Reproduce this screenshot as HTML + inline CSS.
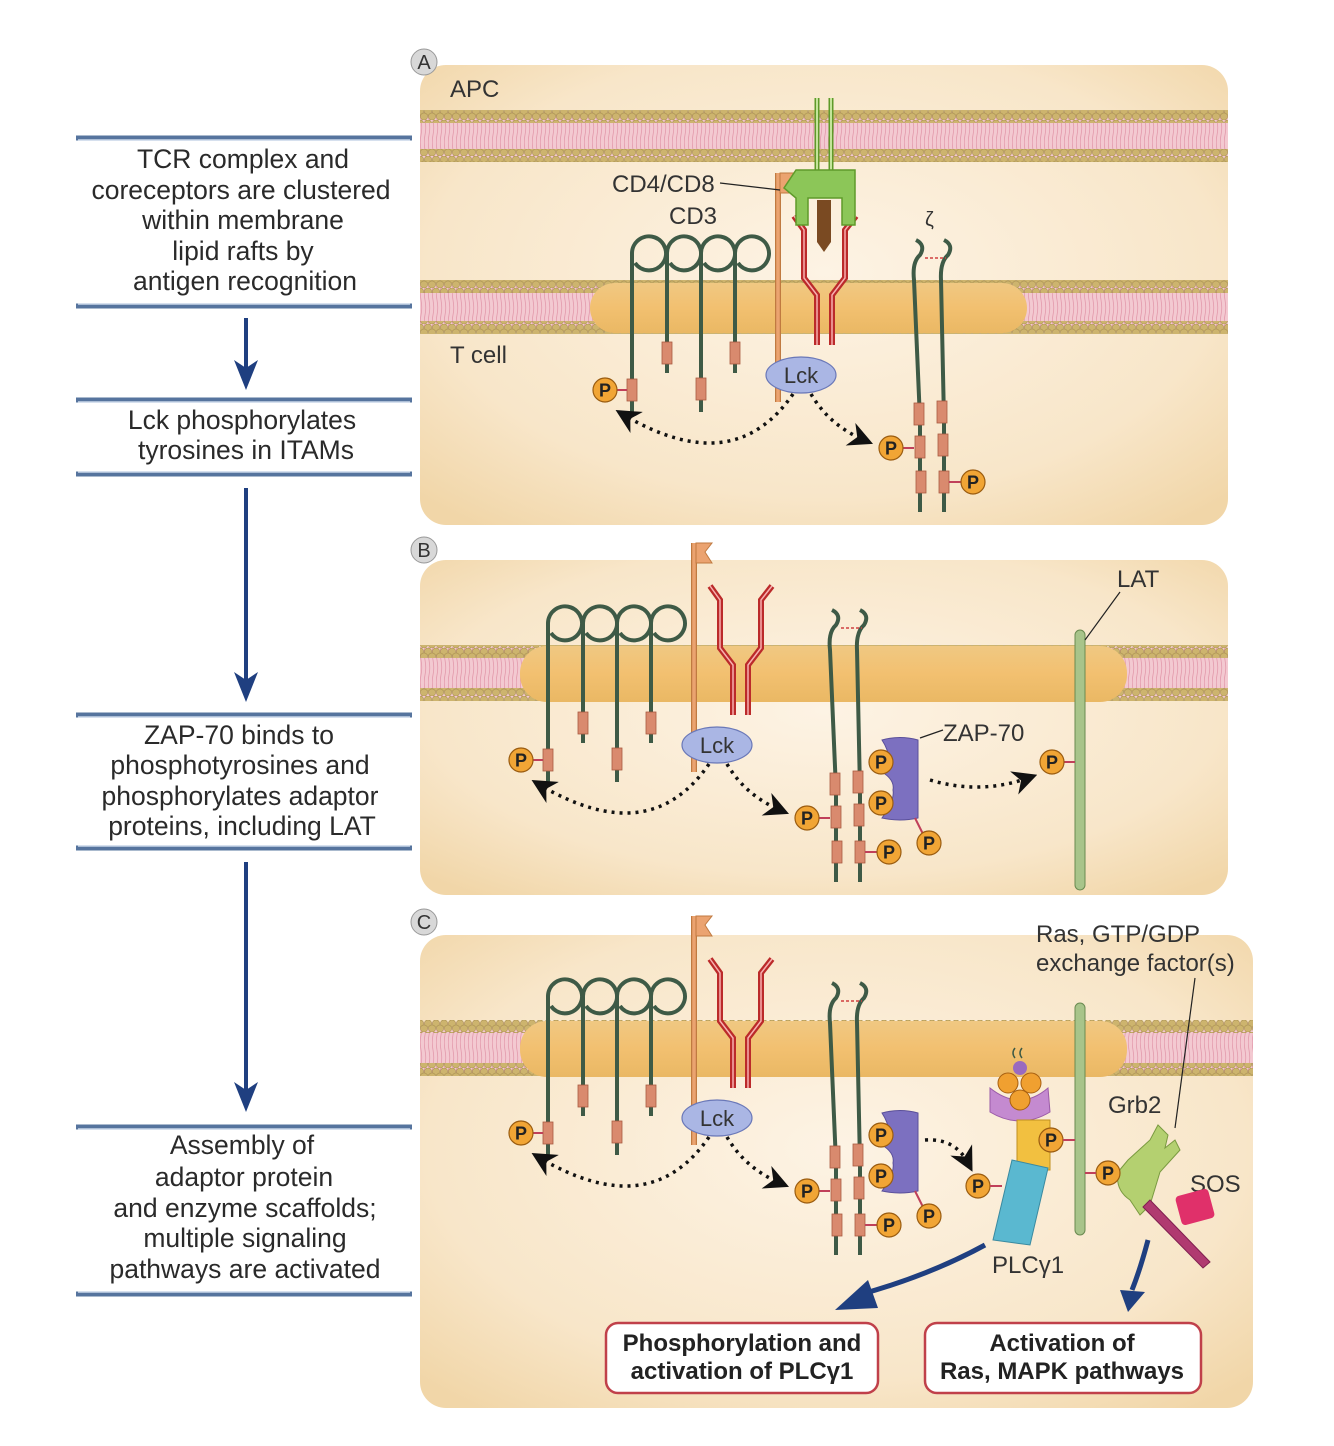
<!DOCTYPE html>
<html><head><meta charset="utf-8"><style>
html,body{margin:0;padding:0;background:#fff;}
svg{display:block;}
text{font-family:"Liberation Sans",sans-serif;}
</style></head><body>
<svg width="1334" height="1446" viewBox="0 0 1334 1446" xmlns="http://www.w3.org/2000/svg">
<defs>
<radialGradient id="bg" cx="50%" cy="45%" r="70%"><stop offset="0" stop-color="#fdf3e4"/><stop offset="0.7" stop-color="#f8e6c9"/><stop offset="1" stop-color="#f1d6a8"/></radialGradient>
<linearGradient id="raft" x1="0" y1="0" x2="0" y2="1"><stop offset="0" stop-color="#f0c882"/><stop offset="0.5" stop-color="#f2c070"/><stop offset="1" stop-color="#eab864"/></linearGradient>
<pattern id="heads" width="8" height="12" patternUnits="userSpaceOnUse"><circle cx="4" cy="3.5" r="3.6" fill="#cdb46e" stroke="#a99050" stroke-width="0.6"/><circle cx="0" cy="8.5" r="3.6" fill="#cdb46e" stroke="#a99050" stroke-width="0.6"/><circle cx="8" cy="8.5" r="3.6" fill="#cdb46e" stroke="#a99050" stroke-width="0.6"/></pattern>
<pattern id="tails" width="4" height="30" patternUnits="userSpaceOnUse"><rect width="4" height="30" fill="#f3c9d1"/><path d="M1 0 Q2.5 8 1 15 Q-0.5 22 1 30" stroke="#e39aac" stroke-width="0.8" fill="none"/></pattern>
<marker id="ah" viewBox="0 0 10 10" refX="6" refY="5" markerWidth="7" markerHeight="7" orient="auto-start-reverse"><path d="M0 0 L10 5 L0 10 L3 5z" fill="#111"/></marker>
<g id="P"><circle r="12" fill="#f1a535" stroke="#9a5c10" stroke-width="1.2"/><text y="6.5" text-anchor="middle" font-size="18" font-weight="bold" fill="#222">P</text></g>
<g id="box"><rect x="-5" y="-11" width="10" height="22" fill="#d98a6e" stroke="#a85a40" stroke-width="0.8"/></g>
<g id="cd3">
  <g stroke="#3e5a46" stroke-width="4" fill="none">
    <path d="M548 782 V623 A17 17 0 1 1 551 633"/>
    <path d="M583 743 V623 A17 17 0 1 1 586 633"/>
    <path d="M617 782 V623 A17 17 0 1 1 620 633"/>
    <path d="M651 743 V623 A17 17 0 1 1 654 633"/>
  </g>
  <use href="#box" x="548" y="760"/><use href="#box" x="583" y="723"/><use href="#box" x="617" y="759"/><use href="#box" x="651" y="723"/>
  <line x1="532" y1="760" x2="543" y2="760" stroke="#c0405a" stroke-width="2"/>
  <use href="#P" x="521" y="760"/>
  <path d="M694 772 V543" stroke="#c07a40" stroke-width="6"/><path d="M694 772 V543" stroke="#eba370" stroke-width="3.5"/>
  <path d="M696 543 H712 L705 552 L712 563 H696z" fill="#eba370" stroke="#c07a40" stroke-width="1"/>
  <g stroke="#bb2a2a" stroke-width="6" fill="none"><path d="M733 715 V665 L720 648 V600 L710 586"/><path d="M748 715 V665 L761 648 V600 L772 586"/></g>
  <g stroke="#f8b0b0" stroke-width="1.5" fill="none"><path d="M733 715 V665 L720 648 V600 L710 586"/><path d="M748 715 V665 L761 648 V600 L772 586"/></g>
  <ellipse cx="717" cy="745" rx="35" ry="18" fill="#aab6e4" stroke="#6a78b8" stroke-width="1.2"/>
  <text x="717" y="753" text-anchor="middle" font-size="22" fill="#333">Lck</text>
  <path d="M709 764 Q650 850 540 785" stroke="#111" stroke-width="3.5" stroke-dasharray="3 5" fill="none" marker-end="url(#ah)"/>
  <path d="M727 764 Q745 795 780 810" stroke="#111" stroke-width="3.5" stroke-dasharray="3 5" fill="none" marker-end="url(#ah)"/>
  <g stroke="#3e5a46" stroke-width="4" fill="none"><path d="M836 882 V790 Q832 700 830 650 Q828 632 836 625 Q842 615 832 610"/><path d="M860 882 V790 Q858 700 857 650 Q856 632 864 625 Q870 615 860 610"/></g>
  <line x1="841" y1="628" x2="862" y2="628" stroke="#d04040" stroke-width="1.5" stroke-dasharray="3 2"/>
  <use href="#box" x="835" y="784"/><use href="#box" x="836" y="817"/><use href="#box" x="837" y="852"/>
  <use href="#box" x="858" y="782"/><use href="#box" x="859" y="815"/><use href="#box" x="860" y="852"/>
  <line x1="818" y1="818" x2="830" y2="818" stroke="#c0405a" stroke-width="2"/><use href="#P" x="807" y="818"/>
  <line x1="865" y1="852" x2="878" y2="852" stroke="#c0405a" stroke-width="2"/><use href="#P" x="889" y="852"/>
</g>
</defs>

<!-- Left column -->
<g font-size="26.5" fill="#2a2a2a" text-anchor="middle">
<g stroke="#56749e" stroke-width="5"><line x1="76" y1="138" x2="412" y2="138"/><line x1="76" y1="306" x2="412" y2="306"/><line x1="76" y1="400" x2="412" y2="400"/><line x1="76" y1="474" x2="412" y2="474"/><line x1="76" y1="715" x2="412" y2="715"/><line x1="76" y1="848" x2="412" y2="848"/><line x1="76" y1="1127" x2="412" y2="1127"/><line x1="76" y1="1294" x2="412" y2="1294"/></g>
<g stroke="#c9d6e8" stroke-width="1.5"><line x1="78" y1="140" x2="410" y2="140"/><line x1="78" y1="304" x2="410" y2="304"/><line x1="78" y1="402" x2="410" y2="402"/><line x1="78" y1="472" x2="410" y2="472"/><line x1="78" y1="717" x2="410" y2="717"/><line x1="78" y1="846" x2="410" y2="846"/><line x1="78" y1="1129" x2="410" y2="1129"/><line x1="78" y1="1292" x2="410" y2="1292"/></g>
<text x="243" y="168">TCR complex and</text><text x="241" y="199">coreceptors are clustered</text><text x="243" y="229">within membrane</text><text x="243" y="260">lipid rafts by</text><text x="245" y="290">antigen recognition</text>
<text x="242" y="429">Lck phosphorylates</text><text x="246" y="459">tyrosines in ITAMs</text>
<text x="239" y="744">ZAP-70 binds to</text><text x="240" y="774">phosphotyrosines and</text><text x="240" y="805">phosphorylates adaptor</text><text x="242" y="835">proteins, including LAT</text>
<text x="242" y="1154">Assembly of</text><text x="244" y="1186">adaptor protein</text><text x="245" y="1217">and enzyme scaffolds;</text><text x="245" y="1247">multiple signaling</text><text x="245" y="1278">pathways are activated</text>
</g>
<g fill="#1f3f80" stroke="#1f3f80">
<line x1="246" y1="318" x2="246" y2="368" stroke-width="4"/><path d="M234 360 L246 390 L258 360 L246 368z" stroke="none"/>
<line x1="246" y1="488" x2="246" y2="680" stroke-width="4"/><path d="M234 672 L246 702 L258 672 L246 680z" stroke="none"/>
<line x1="246" y1="862" x2="246" y2="1090" stroke-width="4"/><path d="M234 1082 L246 1112 L258 1082 L246 1090z" stroke="none"/>
</g>

<!-- Panels -->
<rect x="420" y="65" width="808" height="460" rx="26" fill="url(#bg)"/>
<rect x="420" y="560" width="808" height="335" rx="26" fill="url(#bg)"/>
<rect x="420" y="935" width="833" height="473" rx="26" fill="url(#bg)"/>

<!-- membranes -->
<rect x="420" y="112" width="808" height="48" fill="url(#tails)"/>
<rect x="420" y="110" width="808" height="13" fill="url(#heads)"/><rect x="420" y="149" width="808" height="13" fill="url(#heads)"/>
<rect x="420" y="282" width="808" height="50" fill="url(#tails)"/>
<rect x="420" y="280" width="808" height="13" fill="url(#heads)"/><rect x="420" y="321" width="808" height="13" fill="url(#heads)"/>
<rect x="590" y="283" width="437" height="50" rx="25" fill="url(#raft)"/>
<rect x="420" y="647" width="808" height="52" fill="url(#tails)"/>
<rect x="420" y="645" width="808" height="13" fill="url(#heads)"/><rect x="420" y="688" width="808" height="13" fill="url(#heads)"/>
<rect x="520" y="646" width="607" height="56" rx="27" fill="url(#raft)"/>
<rect x="420" y="1022" width="833" height="52" fill="url(#tails)"/>
<rect x="420" y="1020" width="833" height="13" fill="url(#heads)"/><rect x="420" y="1063" width="833" height="13" fill="url(#heads)"/>
<rect x="520" y="1021" width="607" height="56" rx="27" fill="url(#raft)"/>

<!-- panel letters -->
<g font-size="20" text-anchor="middle" fill="#333"><circle cx="424" cy="62" r="13" fill="#d8d8d8" stroke="#999"/><text x="424" y="69">A</text>
<circle cx="424" cy="550" r="13" fill="#d8d8d8" stroke="#999"/><text x="424" y="557">B</text>
<circle cx="424" cy="922" r="13" fill="#d8d8d8" stroke="#999"/><text x="424" y="929">C</text></g>

<g font-size="24" fill="#333"><text x="450" y="97">APC</text><text x="450" y="363">T cell</text>
<text x="612" y="192">CD4/CD8</text><text x="669" y="224">CD3</text><text x="925" y="226" font-size="20">ζ</text>
<text x="1117" y="587">LAT</text><text x="943" y="741">ZAP-70</text>
<text x="1036" y="942">Ras, GTP/GDP</text><text x="1036" y="971">exchange factor(s)</text>
<text x="1108" y="1113">Grb2</text><text x="1190" y="1192">SOS</text><text x="992" y="1273">PLCγ1</text></g>

<!-- Panel A -->
<g transform="translate(84,-370)"><use href="#cd3"/></g>
<!-- MHC in A -->
<g fill="none" stroke="#5f9a2a" stroke-width="5"><line x1="817" y1="98" x2="817" y2="180"/><line x1="831" y1="98" x2="831" y2="180"/></g>
<g fill="none" stroke="#c4e49a" stroke-width="2"><line x1="817" y1="98" x2="817" y2="180"/><line x1="831" y1="98" x2="831" y2="180"/></g>
<path d="M796 170 H855 V225 H842 V198 H808 V225 H796 V198 L784 188z" fill="#8cc658" stroke="#5f9a2a" stroke-width="1.5"/>
<path d="M817 200 H831 V242 L824 252 L817 242z" fill="#7a4a22"/>
<line x1="720" y1="183" x2="780" y2="190" stroke="#222" stroke-width="1.2"/>
<!-- Panel B -->
<use href="#cd3"/>
<path d="M882 740 Q900 735 918 740 V818 Q900 822 882 818 Q895 800 893 790 Q895 780 882 772 Q895 760 882 740z" fill="#7c70c0" stroke="#5a4f9a" stroke-width="1"/>
<use href="#P" x="881" y="762"/><use href="#P" x="881" y="803"/>
<line x1="915" y1="818" x2="925" y2="838" stroke="#c0405a" stroke-width="2"/><use href="#P" x="929" y="843"/>
<line x1="920" y1="738" x2="943" y2="730" stroke="#222" stroke-width="1.2"/>
<path d="M930 780 Q980 795 1028 778" stroke="#111" stroke-width="3.5" stroke-dasharray="3 5" fill="none" marker-end="url(#ah)"/>
<rect x="1075" y="630" width="10" height="260" rx="5" fill="#a8c48a" stroke="#6a8a50" stroke-width="1"/>
<line x1="1064" y1="762" x2="1075" y2="762" stroke="#c0405a" stroke-width="2"/><use href="#P" x="1052" y="762"/>
<line x1="1085" y1="640" x2="1120" y2="592" stroke="#222" stroke-width="1.2"/>
<!-- Panel C -->
<g transform="translate(0,373)"><use href="#cd3"/>
<path d="M882 740 Q900 735 918 740 V818 Q900 822 882 818 Q895 800 893 790 Q895 780 882 772 Q895 760 882 740z" fill="#7c70c0" stroke="#5a4f9a" stroke-width="1"/>
<use href="#P" x="881" y="762"/><use href="#P" x="881" y="803"/>
<line x1="915" y1="818" x2="925" y2="838" stroke="#c0405a" stroke-width="2"/><use href="#P" x="929" y="843"/>
<path d="M925 767 Q955 765 968 790" stroke="#111" stroke-width="3.5" stroke-dasharray="3 5" fill="none" marker-end="url(#ah)"/>
</g>
<rect x="1075" y="1003" width="10" height="232" rx="5" fill="#a8c48a" stroke="#6a8a50" stroke-width="1"/>
<!-- PLCg -->
<path d="M990 1088 Q1020 1112 1048 1088 L1050 1112 Q1020 1130 990 1112z" fill="#c48ad0" stroke="#9a5aa8"/>
<circle cx="1020" cy="1068" r="7" fill="#9a6ac0"/>
<circle cx="1008" cy="1083" r="10" fill="#f0a030" stroke="#a86010"/><circle cx="1031" cy="1083" r="10" fill="#f0a030" stroke="#a86010"/><circle cx="1020" cy="1100" r="10" fill="#f0a030" stroke="#a86010"/>
<path d="M1015 1058 q-4 -5 0 -10 M1022 1058 q-4 -5 0 -10" stroke="#3e5a46" stroke-width="1.5" fill="none"/>
<path d="M1017 1120 H1050 V1170 H1017z" fill="#f2c040" stroke="#c09020"/>
<path d="M1012 1160 L1048 1168 L1030 1245 L993 1240z" fill="#5ab8d0" stroke="#3a8aa0"/>
<use href="#P" x="1051" y="1140"/><line x1="1063" y1="1140" x2="1075" y2="1140" stroke="#c0405a" stroke-width="2"/>
<use href="#P" x="978" y="1186"/><line x1="990" y1="1186" x2="1002" y2="1186" stroke="#c0405a" stroke-width="2"/>
<!-- Grb2 / SOS -->
<path d="M1128 1160 L1150 1140 L1158 1125 L1168 1135 L1165 1148 L1175 1140 L1180 1150 L1160 1172 L1150 1205 L1140 1215 L1130 1200 Q1115 1190 1118 1172z" fill="#b4d070" stroke="#7a9a40"/>
<path d="M1150 1200 L1210 1262 L1203 1268 L1143 1207z" fill="#b03a70" stroke="#802050"/>
<rect x="1178" y="1192" width="34" height="30" rx="4" transform="rotate(-15 1195 1207)" fill="#e0306a"/>
<use href="#P" x="1108" y="1173"/><line x1="1085" y1="1173" x2="1096" y2="1173" stroke="#c0405a" stroke-width="2"/>
<line x1="1195" y1="978" x2="1175" y2="1128" stroke="#222" stroke-width="1.2"/>
<!-- blue arrows -->
<path d="M985 1245 Q930 1275 862 1294" stroke="#1f3f80" stroke-width="5" fill="none"/><path d="M868 1280 L835 1310 L878 1308z" fill="#1f3f80"/>
<path d="M1148 1240 Q1140 1270 1132 1290" stroke="#1f3f80" stroke-width="5" fill="none"/><path d="M1120 1290 L1128 1312 L1145 1292z" fill="#1f3f80"/>
<!-- output boxes -->
<rect x="606" y="1323" width="272" height="70" rx="12" fill="#fff" stroke="#c0404a" stroke-width="2.5"/>
<rect x="925" y="1323" width="276" height="70" rx="12" fill="#fff" stroke="#c0404a" stroke-width="2.5"/>
<g font-size="24" font-weight="bold" fill="#222" text-anchor="middle">
<text x="742" y="1351">Phosphorylation and</text><text x="742" y="1379">activation of PLCγ1</text>
<text x="1062" y="1351">Activation of</text><text x="1062" y="1379">Ras, MAPK pathways</text></g>
</svg>
</body></html>
